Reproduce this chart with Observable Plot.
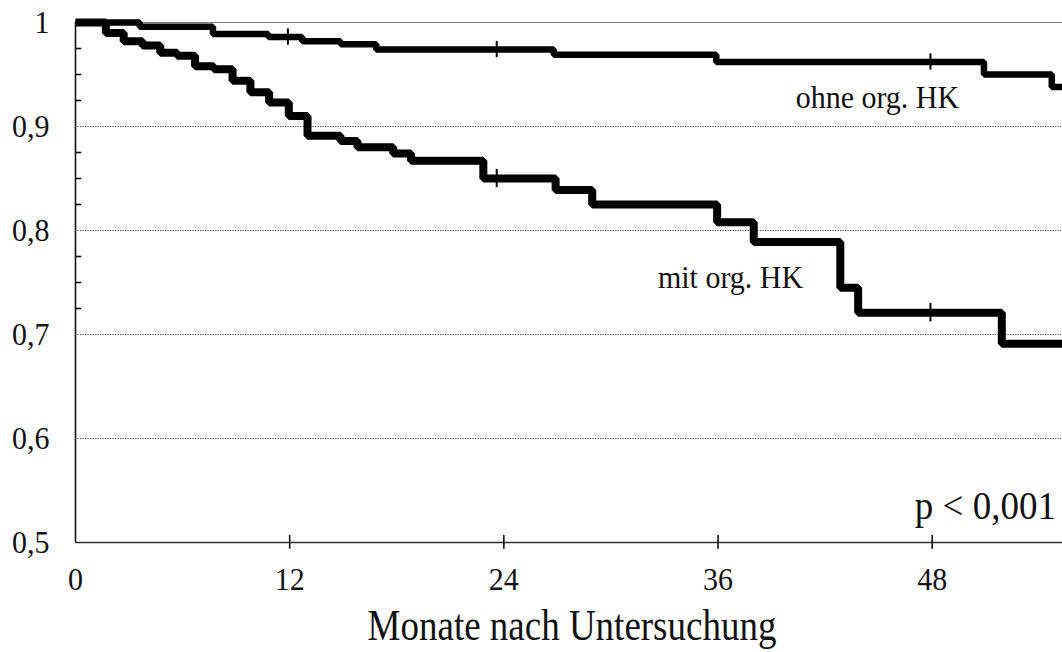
<!DOCTYPE html>
<html>
<head>
<meta charset="utf-8">
<script src="https://cdn.jsdelivr.net/npm/d3@7"></script>
<script src="https://cdn.jsdelivr.net/npm/@observablehq/plot@0.6"></script>
<style>
  html, body { margin: 0; padding: 0; background: #fff; }
</style>
</head>
<body>
<div id="chart"></div>
<script>
// Kaplan-Meier survival, months after examination
const followUpEnd = 55.3;

// ohne organische Herzkrankheit
const ohneMonths   = [0, 3.6, 7.7, 10.8, 12.7, 14.85, 16.85, 26.8, 35.9, 50.9, 54.7];
const ohneSurvival = [1, 0.996, 0.989, 0.986, 0.982, 0.979, 0.974, 0.969, 0.962, 0.950, 0.938];
const ohneCensored = [11.9, 23.6, 47.9];

// mit organischer Herzkrankheit
const mitMonths   = [0, 1.7, 2.7, 3.75, 4.75, 5.7, 6.7, 7.75, 8.8, 9.8, 10.85, 11.95, 13.0,
                     14.85, 15.8, 17.8, 18.8, 22.85, 26.9, 28.95, 35.95, 38.0, 42.85, 43.85, 51.9];
const mitSurvival = [1, 0.990, 0.982, 0.978, 0.971, 0.968, 0.958, 0.955, 0.944, 0.933, 0.923, 0.910, 0.891,
                     0.886, 0.880, 0.874, 0.867, 0.850, 0.839, 0.825, 0.808, 0.789, 0.745, 0.721, 0.691];
const mitCensored = [23.6, 47.9];

// axes
const xTicks = [0, 12, 24, 36, 48];
const yTicks = [0.5, 0.6, 0.7, 0.8, 0.9, 1];
const yMinorTicks = [0.725, 0.75, 0.775, 0.825, 0.85, 0.875, 0.925, 0.95, 0.975];

// curve labels
const labelText     = ["ohne org. HK", "mit org. HK"];
const labelMonth    = [44.93, 36.7];
const labelSurvival = [0.918, 0.745];
const pValueText = "p < 0,001";
const xTitle = "Monate nach Untersuchung";

const toRows = (months, surv) => {
  const rows = months.map((m, i) => ({month: m, survival: surv[i]}));
  rows.push({month: followUpEnd, survival: surv[surv.length - 1]});
  return rows;
};
const survAt = (months, surv, t) => surv[d3.bisectRight(months, t) - 1];
const censorRows = (times, months, surv) =>
  times.map(t => ({month: t, survival: survAt(months, surv, t)}));

const ohne = toRows(ohneMonths, ohneSurvival);
const mit = toRows(mitMonths, mitSurvival);
const ohneCens = censorRows(ohneCensored, ohneMonths, ohneSurvival);
const mitCens = censorRows(mitCensored, mitMonths, mitSurvival);
const labels = labelText.map((t, i) => ({text: t, month: labelMonth[i], survival: labelSurvival[i]}));

const fmt = v => v === 1 ? "1" : v.toFixed(1).replace(".", ",");
const serif = "'Liberation Serif', 'Times New Roman', Times, serif";

const chart = Plot.plot({
  width: 1062,
  height: 652,
  marginLeft: 75,
  marginRight: 0,
  marginTop: 22,
  marginBottom: 110,
  x: {domain: [0, followUpEnd]},
  y: {domain: [0.5, 1]},
  style: {fontFamily: serif, fontSize: "30px", color: "#111", background: "#fff", overflow: "visible"},
  marks: [
    // dotted reference lines and the solid top line
    Plot.ruleY(yTicks.filter(v => v > 0.5 && v < 1), {stroke: "#444", strokeWidth: 1, strokeDasharray: "1.2,1.3"}),
    Plot.ruleY([1], {stroke: "#777", strokeWidth: 1.2}),
    // axis lines
    Plot.ruleX([0], {stroke: "#111", strokeWidth: 1.6}),
    Plot.ruleY([0.5], {stroke: "#333", strokeWidth: 1.4}),
    // inward minor ticks on the survival axis
    Plot.ruleY(yMinorTicks, {x1: 0, x2: 0.35, stroke: "#111", strokeWidth: 1.6}),
    // ticks crossing the time axis
    Plot.ruleX(xTicks.slice(1), {y1: 0.4935, y2: 0.5068, stroke: "#111", strokeWidth: 1.6}),
    Plot.axisX({ticks: xTicks, tickSize: 0, tickPadding: 25, fontSize: 30, tickFormat: d => String(d), label: null}),
    Plot.axisY({ticks: yTicks, tickSize: 0, tickPadding: 26, fontSize: 30, tickFormat: fmt, label: null}),
    // survival curves
    Plot.line(ohne, {x: "month", y: "survival", curve: "step-after", stroke: "#000", strokeWidth: 6.5, strokeLinejoin: "miter", strokeLinecap: "butt"}),
    Plot.line(mit, {x: "month", y: "survival", curve: "step-after", stroke: "#000", strokeWidth: 8, strokeLinejoin: "miter", strokeLinecap: "butt"}),
    // censored observations
    Plot.ruleX(ohneCens, {x: "month", y1: d => d.survival - 0.0078, y2: d => d.survival + 0.0078, stroke: "#000", strokeWidth: 2}),
    Plot.ruleX(mitCens, {x: "month", y1: d => d.survival - 0.0088, y2: d => d.survival + 0.0088, stroke: "#000", strokeWidth: 2}),
    // annotations
    Plot.text(labels, {x: "month", y: "survival", text: "text", fontSize: 30, lineAnchor: "bottom", textAnchor: "middle", fill: "#111"}),
    Plot.text([pValueText], {x: () => 50.98, y: () => 0.523, text: d => d, fontSize: 37, lineAnchor: "bottom", textAnchor: "middle", fill: "#111"}),
    Plot.text([xTitle], {frameAnchor: "bottom", dx: 3, dy: 97, text: d => d, fontSize: 37, lineAnchor: "bottom", fill: "#111"})
  ]
});

// the typeface is set a little taller than it is wide; stretch each label vertically about its anchor
d3.select(chart).selectAll("text").each(function() {
  const k = this.textContent === xTitle ? 1.18 : 1.07;
  const t = this.getAttribute("transform");
  if (t) {
    this.setAttribute("transform", `${t} scale(1,${k})`);
  } else {
    const y = +this.getAttribute("y") || 0;
    this.setAttribute("transform", `translate(0,${y}) scale(1,${k}) translate(0,${-y})`);
  }
});

document.getElementById("chart").append(chart);
</script>
</body>
</html>
